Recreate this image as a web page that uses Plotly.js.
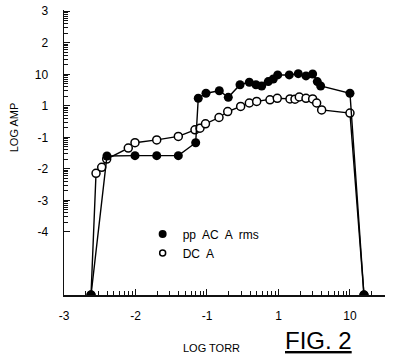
<!DOCTYPE html>
<html>
<head>
<meta charset="utf-8">
<script src="https://cdn.plot.ly/plotly-3.0.1.min.js"></script>
<style>html,body{margin:0;padding:0;background:#fff;}#chart{width:394px;height:361px;}</style>
</head>
<body>
<div id="chart"></div>
<script>
// x positions are decade slots: 0 = "-3", 1 = "-2", 2 = "-1", 3 = "1", 4 = "10"
const xTickVals = [0, 1, 2, 3, 4];
const xTickText = ["-3", "-2", "-1", "1", "10"];
// y positions: 0 = "-4" ... 7 = "3"
const yTickVals = [0, 1, 2, 3, 4, 5, 6, 7];
const yTickText = ["-4", "-3", "-2", "-1", "1", "10", "2", "3"];

// pp AC A rms (filled)
const acX = [0.378, 0.601, 0.993, 1.297, 1.599, 1.842, 1.878, 1.986, 2.172, 2.298, 2.462, 2.592, 2.685, 2.765, 2.857, 2.927, 2.989, 3.151, 3.277, 3.385, 3.478, 3.543, 3.590, 4.0, 4.196];
const acY = [-2.0, 2.41, 2.42, 2.42, 2.42, 2.83, 4.24, 4.40, 4.48, 4.27, 4.67, 4.75, 4.67, 4.63, 4.77, 4.85, 4.98, 4.98, 5.02, 4.95, 5.01, 4.77, 4.63, 4.40, -2.0];

// DC A (open)
const dcX = [0.378, 0.448, 0.527, 0.597, 0.899, 0.993, 1.297, 1.599, 1.832, 1.902, 1.979, 2.168, 2.290, 2.471, 2.592, 2.695, 2.881, 2.983, 3.161, 3.231, 3.291, 3.385, 3.478, 3.534, 3.604, 4.0, 4.196];
const dcY = [-2.0, 1.86, 2.05, 2.31, 2.66, 2.83, 2.92, 3.03, 3.24, 3.29, 3.43, 3.63, 3.82, 3.98, 4.09, 4.14, 4.19, 4.24, 4.22, 4.21, 4.28, 4.24, 4.22, 4.09, 3.87, 3.77, -2.0];

const xRange = [0, 4.49];
const yRange = [-2, 7.04];

function logMinors(from, to, limit) {
  const out = [];
  for (let k = from; k < to; k++) {
    for (let j = 2; j <= 9; j++) {
      const v = k + Math.log10(j);
      if (v < limit) out.push(v);
    }
  }
  return out;
}

const font = "Liberation Sans, Arial, sans-serif";

const traces = [
  {x: dcX, y: dcY, mode: "lines+markers", showlegend: false,
   line: {color: "#000", width: 1.4},
   marker: {symbol: "circle", size: 8, color: "#fff", line: {color: "#000", width: 1.5}}},
  {x: acX, y: acY, mode: "lines+markers", showlegend: false,
   line: {color: "#000", width: 1.4},
   marker: {symbol: "circle", size: 9, color: "#000"}},
  {x: [null], y: [null], mode: "markers", name: "pp  AC  A  rms",
   marker: {symbol: "circle", size: 8, color: "#000"}},
  {x: [null], y: [null], mode: "markers", name: "DC  A",
   marker: {symbol: "circle", size: 6, color: "#fff", line: {color: "#000", width: 1.5}}}
];

const layout = {
  width: 394, height: 361,
  margin: {l: 64, r: 9, t: 10, b: 66},
  paper_bgcolor: "#fff", plot_bgcolor: "#fff",
  font: {family: font, size: 12, color: "#000"},
  showlegend: true,
  legend: {x: 0.245, y: 0.265, xanchor: "left", yanchor: "top",
           bgcolor: "rgba(0,0,0,0)", font: {family: font, size: 12, color: "#000"},
           itemwidth: 30, tracegroupgap: 0},
  xaxis: {
    range: xRange, tickmode: "array", tickvals: xTickVals, ticktext: xTickText,
    showgrid: false, zeroline: false, showline: true, linecolor: "#111", linewidth: 1.5,
    ticks: "inside", ticklen: 6, tickwidth: 1, tickcolor: "#111",
    ticklabelstandoff: 9, tickfont: {family: font, size: 12, color: "#000"},
    minor: {tickmode: "array", tickvals: logMinors(0, 5, 4.49), ticks: "inside", ticklen: 4, tickcolor: "#111", tickwidth: 1, showgrid: false}
  },
  yaxis: {
    range: yRange, tickmode: "array", tickvals: yTickVals, ticktext: yTickText,
    showgrid: false, zeroline: false, showline: true, linecolor: "#111", linewidth: 1.5,
    ticks: "inside", ticklen: 6, tickwidth: 1, tickcolor: "#111",
    ticklabelstandoff: 12, tickfont: {family: font, size: 12, color: "#000"},
    minor: {tickmode: "array", tickvals: logMinors(0, 7, 7.04), ticks: "inside", ticklen: 4, tickcolor: "#111", tickwidth: 1, showgrid: false}
  },
  annotations: [
    {text: "LOG AMP", xref: "paper", yref: "paper", x: -0.18, y: 0.684, textangle: -90,
     showarrow: false, font: {family: font, size: 11, color: "#000"}},
    {text: "LOG TORR", xref: "paper", yref: "paper", x: 0.461, y: -0.215,
     showarrow: false, font: {family: font, size: 11, color: "#000"}},
    {text: "<u>FIG. 2</u>", xref: "paper", yref: "paper", x: 0.903, y: -0.215,
     showarrow: false, font: {family: font, size: 24, color: "#000"}}
  ]
};

Plotly.newPlot("chart", traces, layout, {staticPlot: true, displayModeBar: false});
</script>
</body>
</html>
